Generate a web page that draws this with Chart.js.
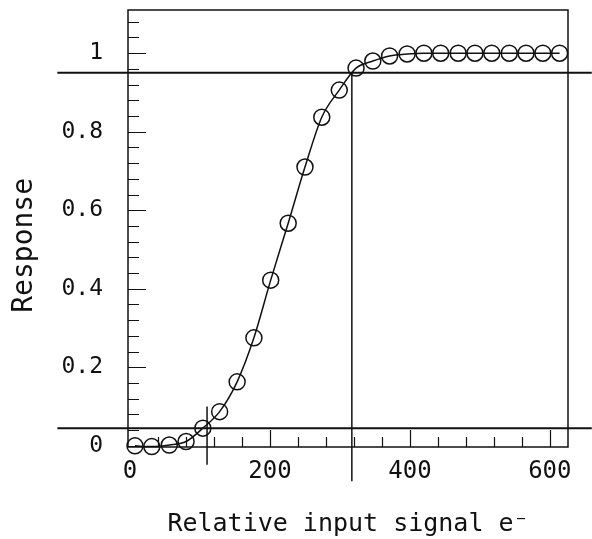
<!DOCTYPE html>
<html lang="en">
<head>
<meta charset="UTF-8">
<title>Response vs relative input signal</title>
<script src="https://cdn.jsdelivr.net/npm/chart.js"></script>
<style>
  body { margin: 0; background: #fff; }
</style>
</head>
<body>
<canvas id="respChart" width="592" height="539"></canvas>
<script>
const signal = [7, 31, 56, 80, 104, 128, 153, 177, 201, 226, 250, 274, 299,
                323, 347, 371, 396, 420, 444, 469, 493, 517, 542, 566, 590, 614];
const response = [0, -0.002, 0.002, 0.011, 0.045, 0.087, 0.163, 0.275, 0.422, 0.567, 0.71, 0.837, 0.906,
                  0.962, 0.98, 0.993, 0.998, 1, 1, 1, 1, 1, 1, 1, 1, 1];

const xTicks = [0, 200, 400, 600];
const yTicks = [0, 0.2, 0.4, 0.6, 0.8, 1];

// 5% / 95% levels and the signals where the curve crosses them
const levels = [0.045, 0.95];
const levelSpan = [-104, 660];
const crossSignal = [110, 317];
const crossSpan = [[0.1, -0.048], [0.95, -0.09]];

const ink = '#111';
const mono = 'DejaVu Sans Mono';

// frame + inward ticks like the original plot
const framePlugin = {
  id: 'frame',
  afterDatasetsDraw(chart) {
    const { ctx, chartArea: a, scales: { x, y } } = chart;
    ctx.save();
    ctx.strokeStyle = ink;
    ctx.lineWidth = 1.5;
    ctx.strokeRect(a.left, a.top, a.right - a.left, a.bottom - a.top);
    ctx.lineWidth = 1.2;
    ctx.beginPath();
    for (let v = 0; v <= 1.081; v += 0.04) {
      const py = Math.round(y.getPixelForValue(v)) + 0.5;
      const major = Math.abs(v / 0.2 - Math.round(v / 0.2)) < 0.01;
      ctx.moveTo(a.left, py);
      ctx.lineTo(a.left + (major ? 18 : 11), py);
    }
    for (let v = 40; v <= 600; v += 40) {
      const px = Math.round(x.getPixelForValue(v)) + 0.5;
      const major = v % 200 === 0;
      ctx.moveTo(px, a.bottom);
      ctx.lineTo(px, a.bottom - (major ? 17 : 10));
    }
    ctx.stroke();
    ctx.restore();
  }
};

const datasets = [
  {
    data: signal.map((s, i) => ({ x: s, y: response[i] })),
    showLine: true,
    borderColor: ink,
    borderWidth: 1.5,
    cubicInterpolationMode: 'monotone',
    pointRadius: 8,
    pointBorderWidth: 1.5,
    pointBorderColor: ink,
    pointBackgroundColor: 'rgba(0,0,0,0)',
    clip: false
  }
];
levels.forEach(l => datasets.push({
  data: levelSpan.map(s => ({ x: s, y: l })),
  showLine: true, borderColor: ink, borderWidth: 2, pointRadius: 0, clip: false
}));
crossSignal.forEach((s, i) => datasets.push({
  data: crossSpan[i].map(r => ({ x: s, y: r })),
  showLine: true, borderColor: ink, borderWidth: 1.5, pointRadius: 0, clip: false
}));

new Chart(document.getElementById('respChart'), {
  type: 'scatter',
  data: { datasets },
  plugins: [framePlugin],
  options: {
    responsive: false,
    animation: false,
    layout: { padding: { top: 10, right: 24, bottom: 0, left: 0 } },
    plugins: { legend: { display: false }, tooltip: { enabled: false } },
    scales: {
      x: {
        type: 'linear',
        min: -3, max: 626,
        grid: { display: false, drawTicks: false },
        border: { display: false },
        afterBuildTicks: s => { s.ticks = xTicks.map(v => ({ value: v })); },
        afterFit: s => { s.height = 92; s.paddingLeft = 0; s.paddingRight = 0; },
        ticks: { color: ink, font: { family: mono, size: 24 }, padding: 10, maxRotation: 0, autoSkip: false },
        title: {
          display: true, text: 'Relative input signal e⁻', color: ink,
          font: { family: mono, size: 25 }, padding: { top: 0, bottom: 0 }
        }
      },
      y: {
        type: 'linear',
        min: -0.003, max: 1.11,
        grid: { display: false, drawTicks: false },
        border: { display: false },
        afterBuildTicks: s => { s.ticks = yTicks.map(v => ({ value: v })); },
        afterFit: s => { s.width = 128; s.paddingTop = 0; s.paddingBottom = 0; },
        ticks: { color: ink, font: { family: mono, size: 23 }, padding: 25, callback: v => String(v) },
        title: {
          display: true, text: 'Response  ', color: ink,
          font: { family: mono, size: 28 }, padding: { top: 8, bottom: 0 }
        }
      }
    }
  }
});
</script>
</body>
</html>
